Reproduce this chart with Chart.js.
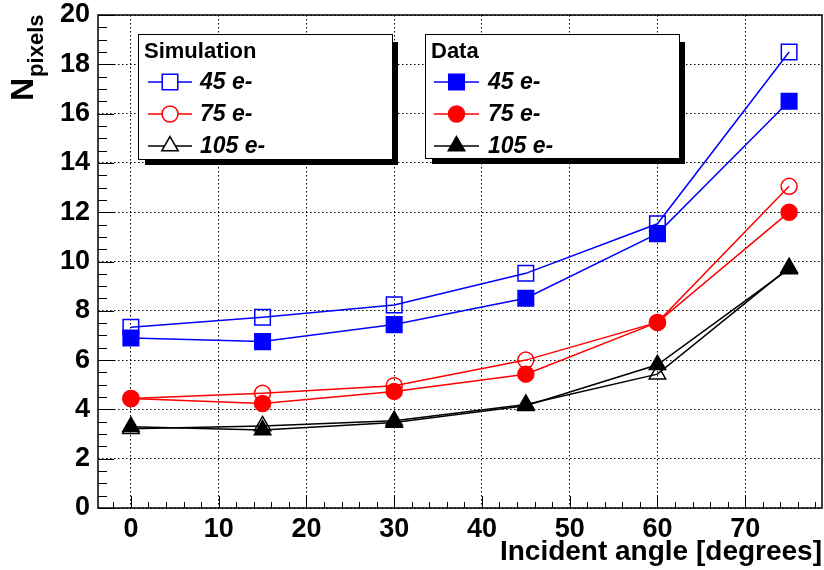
<!DOCTYPE html>
<html>
<head>
<meta charset="utf-8">
<script src="https://cdn.jsdelivr.net/npm/chart.js@4"></script>
<style>
  body { margin: 0; background: #fff; }
  canvas { display: block; }
</style>
</head>
<body>
<canvas id="npix" width="824" height="570"></canvas>
<script>
// incident angles (degrees)
const angles = [0, 15, 30, 45, 60, 75];

// simulation
const sim45 = [7.33, 7.74, 8.24, 9.52, 11.53, 18.5];
const sim75 = [4.44, 4.66, 4.96, 6.0, 7.53, 13.05];
const sim105 = [3.22, 3.33, 3.54, 4.2, 5.43, 9.75];

// data
const data45 = [6.9, 6.75, 7.44, 8.51, 11.13, 16.5];
const data75 = [4.44, 4.24, 4.73, 5.43, 7.53, 12.0];
const data105 = [3.3, 3.16, 3.47, 4.15, 5.81, 9.7];

const xTicks = [0, 10, 20, 30, 40, 50, 60, 70];
const yTicks = [0, 2, 4, 6, 8, 10, 12, 14, 16, 18, 20];

const FONT = '"Liberation Sans", Arial, Helvetica, sans-serif';
const BLUE = '#0000ff', RED = '#ff0000', BLACK = '#000000';
const NONE = 'rgba(0,0,0,0)';

const pts = ys => angles.map((a, i) => ({ x: a, y: ys[i] }));

// marker style per series
const styles = {
  s45:  { pointStyle: 'rect',     radius: 11,  color: BLUE,  filled: false },
  s75:  { pointStyle: 'circle',   radius: 8,   color: RED,   filled: false },
  s105: { pointStyle: 'triangle', radius: 9.5, color: BLACK, filled: false },
  d45:  { pointStyle: 'rect',     radius: 11,  color: BLUE,  filled: true },
  d75:  { pointStyle: 'circle',   radius: 8,   color: RED,   filled: true },
  d105: { pointStyle: 'triangle', radius: 9.5, color: BLACK, filled: true }
};

function series(label, ys, st, order) {
  return {
    label: label,
    data: pts(ys),
    order: order,
    borderColor: st.color,
    borderWidth: 1.5,
    pointStyle: st.pointStyle,
    pointRadius: st.radius,
    pointBorderWidth: 1.5,
    pointBorderColor: st.color,
    pointBackgroundColor: st.filled ? st.color : NONE,
    tension: 0,
    fill: false
  };
}

const rootPlugin = {
  id: 'rootStyle',
  beforeDatasetsDraw(chart) {
    const { ctx, chartArea: a, scales: { x, y } } = chart;
    ctx.save();
    ctx.strokeStyle = '#000';
    ctx.lineWidth = 1;
    ctx.beginPath();
    // y ticks, inward
    for (let v = 0; v <= 20.001; v += 0.5) {
      const py = Math.round(y.getPixelForValue(v)) + 0.5;
      const len = Math.abs(v % 2) < 0.01 ? 16 : 9;
      ctx.moveTo(a.left, py);
      ctx.lineTo(a.left + len, py);
    }
    // x ticks, inward
    for (let v = -2; v <= 78; v += 2) {
      const px = Math.round(x.getPixelForValue(v)) + 0.5;
      const len = Math.abs(v % 10) < 0.01 ? 12 : 6;
      ctx.moveTo(px, a.bottom);
      ctx.lineTo(px, a.bottom - len);
    }
    ctx.stroke();
    // frame
    ctx.lineWidth = 1.5;
    ctx.strokeRect(a.left, a.top, a.right - a.left, a.bottom - a.top);

    // y title: N_pixels
    ctx.fillStyle = '#000';
    ctx.translate(33, 101);
    ctx.rotate(-Math.PI / 2);
    ctx.textBaseline = 'alphabetic';
    ctx.textAlign = 'left';
    ctx.font = 'bold 32px ' + FONT;
    ctx.fillText('N', 0, 0);
    const nw = ctx.measureText('N').width;
    ctx.font = 'bold 22px ' + FONT;
    ctx.fillText('pixels', nw + 1, 10);
    ctx.restore();
  },
  afterDraw(chart) {
    const ctx = chart.ctx;
    const boxes = [
      { x: 138, y: 34, w: 254, h: 125, title: 'Simulation', lx0: 148, lx1: 192, tx: 200,
        rows: [['45 e-', styles.s45], ['75 e-', styles.s75], ['105 e-', styles.s105]] },
      { x: 425, y: 34, w: 254, h: 124, title: 'Data', lx0: 434, lx1: 479, tx: 488,
        rows: [['45 e-', styles.d45], ['75 e-', styles.d75], ['105 e-', styles.d105]] }
    ];
    const rowY = [82, 114, 146];
    ctx.save();
    boxes.forEach(b => {
      ctx.fillStyle = '#000';
      ctx.fillRect(b.x + 7, b.y + 8, b.w - 1, b.h - 2);
      ctx.fillStyle = '#fff';
      ctx.fillRect(b.x, b.y, b.w, b.h);
      ctx.strokeStyle = '#000';
      ctx.lineWidth = 1;
      ctx.strokeRect(b.x + 0.5, b.y + 0.5, b.w, b.h);
      ctx.fillStyle = '#000';
      ctx.textAlign = 'left';
      ctx.textBaseline = 'middle';
      ctx.font = 'bold 22px ' + FONT;
      ctx.fillText(b.title, b.x + 6, 52);
      b.rows.forEach((r, i) => {
        const st = r[1], cy = rowY[i];
        ctx.strokeStyle = st.color;
        ctx.lineWidth = 1.5;
        ctx.beginPath();
        ctx.moveTo(b.lx0, cy);
        ctx.lineTo(b.lx1, cy);
        ctx.stroke();
        ctx.fillStyle = st.filled ? st.color : '#fff';
        Chart.helpers.drawPoint(ctx, {
          pointStyle: st.pointStyle, radius: st.radius, borderWidth: 1.5, rotation: 0
        }, (b.lx0 + b.lx1) / 2, cy);
        ctx.fillStyle = '#000';
        ctx.font = 'italic bold 23px ' + FONT;
        ctx.fillText(r[0], b.tx, cy + 1);
      });
    });
    ctx.restore();
  }
};

new Chart(document.getElementById('npix'), {
  type: 'line',
  data: {
    datasets: [
      series('Simulation 45 e-', sim45, styles.s45, 2),
      series('Simulation 75 e-', sim75, styles.s75, 2),
      series('Simulation 105 e-', sim105, styles.s105, 2),
      series('Data 45 e-', data45, styles.d45, 1),
      series('Data 75 e-', data75, styles.d75, 1),
      series('Data 105 e-', data105, styles.d105, 1)
    ]
  },
  options: {
    responsive: false,
    animation: false,
    devicePixelRatio: 1,
    layout: { autoPadding: false, padding: { top: 15, right: 2, left: 0, bottom: 0 } },
    plugins: { legend: { display: false }, tooltip: { enabled: false } },
    scales: {
      x: {
        type: 'linear',
        min: -3.75,
        max: 78.75,
        afterBuildTicks: s => { s.ticks = xTicks.map(v => ({ value: v })); },
        afterFit: s => { s.height = 62; s.paddingLeft = 0; s.paddingRight = 0; },
        grid: { color: '#000', lineWidth: 1, drawTicks: false },
        border: { display: false, dash: [1.5, 2.5] },
        ticks: {
          autoSkip: false, maxRotation: 0, padding: 5, color: '#000',
          font: { family: FONT, size: 27, weight: 'bold' }
        },
        title: {
          display: true, text: 'Incident angle [degrees]', align: 'end', color: '#000',
          padding: { top: 0, bottom: 1 },
          font: { family: FONT, size: 28, weight: 'bold' }
        }
      },
      y: {
        min: 0,
        max: 20,
        afterBuildTicks: s => { s.ticks = yTicks.map(v => ({ value: v })); },
        afterFit: s => { s.width = 98; s.paddingTop = 0; s.paddingBottom = 0; },
        grid: { color: '#000', lineWidth: 1, drawTicks: false },
        border: { display: false, dash: [1.5, 2.5] },
        ticks: {
          padding: 8, color: '#000',
          font: { family: FONT, size: 27, weight: 'bold' }
        }
      }
    }
  },
  plugins: [rootPlugin]
});
</script>
</body>
</html>
